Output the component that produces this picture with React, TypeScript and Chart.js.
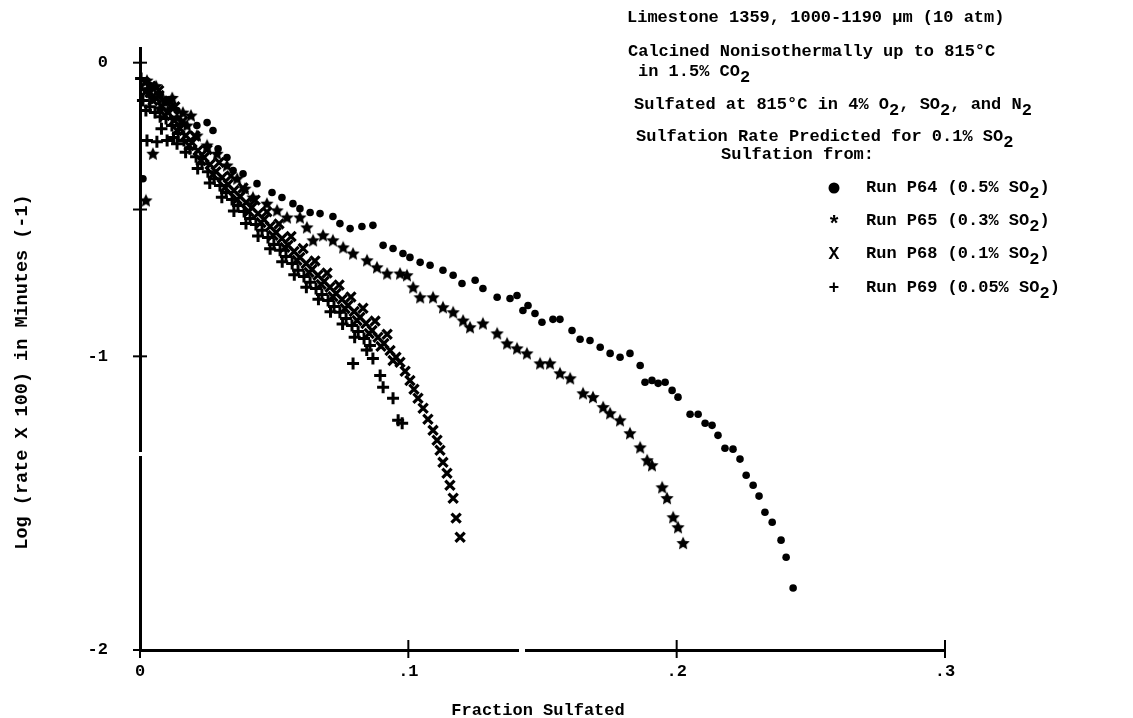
import React, { useEffect, useRef } from "react";
import { Chart, registerables } from "chart.js";

Chart.register(...registerables);

const FONT = '"Liberation Mono", "DejaVu Sans Mono", monospace';
const INK = "#000";

// [fraction sulfated, log(rate x 100)] for each run
const runP64: [number, number][] = [
  [0.0011, -0.395], [0.0037, -0.078], [0.0075, -0.112], [0.0112, -0.129], [0.0138, -0.163],
  [0.0157, -0.204], [0.0212, -0.214], [0.025, -0.204], [0.0272, -0.231], [0.0291, -0.293],
  [0.0324, -0.323], [0.0347, -0.367], [0.0384, -0.378], [0.0436, -0.412], [0.0492, -0.442],
  [0.0529, -0.459], [0.057, -0.48], [0.0596, -0.497], [0.0634, -0.51], [0.0671, -0.514],
  [0.0719, -0.524], [0.0745, -0.548], [0.0783, -0.565], [0.0827, -0.558], [0.0868, -0.554],
  [0.0906, -0.622], [0.0943, -0.633], [0.098, -0.65], [0.1006, -0.663], [0.1044, -0.68],
  [0.1081, -0.69], [0.1129, -0.707], [0.1167, -0.724], [0.12, -0.752], [0.1249, -0.741],
  [0.1278, -0.769], [0.1331, -0.799], [0.1379, -0.803], [0.1405, -0.793], [0.1427, -0.844],
  [0.1446, -0.827], [0.1472, -0.854], [0.1498, -0.884], [0.1539, -0.874], [0.1565, -0.874],
  [0.161, -0.912], [0.164, -0.942], [0.1677, -0.946], [0.1715, -0.969], [0.1752, -0.99],
  [0.1789, -1.003], [0.1826, -0.99], [0.1864, -1.031], [0.1882, -1.088], [0.1908, -1.082],
  [0.1931, -1.092], [0.1957, -1.088], [0.1983, -1.116], [0.2005, -1.139], [0.205, -1.197],
  [0.208, -1.197], [0.2106, -1.228], [0.2132, -1.235], [0.2154, -1.269], [0.218, -1.313],
  [0.221, -1.316], [0.2236, -1.35], [0.2259, -1.405], [0.2285, -1.439], [0.2307, -1.476],
  [0.2329, -1.531], [0.2356, -1.565], [0.2389, -1.626], [0.2408, -1.684], [0.2434, -1.789],
];

const runP65: [number, number][] = [
  [0.0022, -0.469], [0.0026, -0.061], [0.003, -0.09], [0.0045, -0.119], [0.0048, -0.31],
  [0.006, -0.08], [0.0075, -0.156], [0.009, -0.13], [0.0104, -0.163], [0.012, -0.12],
  [0.0138, -0.187], [0.016, -0.17], [0.0175, -0.214], [0.019, -0.18], [0.0212, -0.248],
  [0.025, -0.282], [0.0287, -0.31], [0.0324, -0.35], [0.0362, -0.395], [0.0391, -0.429],
  [0.0421, -0.459], [0.0473, -0.48], [0.0511, -0.503], [0.0548, -0.527], [0.0596, -0.527],
  [0.0622, -0.561], [0.0645, -0.605], [0.0682, -0.588], [0.0719, -0.605], [0.0757, -0.629],
  [0.0794, -0.65], [0.0846, -0.673], [0.0883, -0.697], [0.0921, -0.718], [0.0969, -0.718],
  [0.0995, -0.724], [0.1018, -0.765], [0.1044, -0.799], [0.1092, -0.799], [0.1129, -0.833],
  [0.1167, -0.85], [0.1204, -0.878], [0.123, -0.901], [0.1278, -0.888], [0.1331, -0.922],
  [0.1368, -0.956], [0.1405, -0.973], [0.1442, -0.99], [0.1491, -1.024], [0.1528, -1.024],
  [0.1565, -1.058], [0.1603, -1.075], [0.1651, -1.126], [0.1688, -1.139], [0.1726, -1.173],
  [0.1752, -1.194], [0.1789, -1.218], [0.1826, -1.262], [0.1864, -1.31], [0.189, -1.354],
  [0.1908, -1.371], [0.1946, -1.446], [0.1964, -1.483], [0.1987, -1.548], [0.2005, -1.582],
  [0.2024, -1.636],
];

const runP68: [number, number][] = [
  [0.0019, -0.068], [0.002, -0.1], [0.0037, -0.102], [0.004, -0.08], [0.0048, -0.129],
  [0.006, -0.122], [0.007, -0.095], [0.0071, -0.112], [0.0082, -0.15], [0.0093, -0.18],
  [0.0104, -0.17], [0.011, -0.13], [0.0116, -0.15], [0.0127, -0.197], [0.013, -0.15],
  [0.0138, -0.231], [0.0149, -0.224], [0.016, -0.199], [0.0171, -0.248], [0.0183, -0.282],
  [0.0194, -0.272], [0.0205, -0.25], [0.0216, -0.299], [0.0227, -0.333], [0.0239, -0.323],
  [0.025, -0.296], [0.0261, -0.347], [0.0272, -0.381], [0.0283, -0.371], [0.0295, -0.34],
  [0.0306, -0.391], [0.0317, -0.425], [0.0328, -0.415], [0.0339, -0.386], [0.035, -0.435],
  [0.0362, -0.466], [0.0373, -0.456], [0.0384, -0.427], [0.0395, -0.476], [0.0406, -0.507],
  [0.0417, -0.493], [0.0429, -0.468], [0.044, -0.514], [0.0451, -0.544], [0.0462, -0.534],
  [0.0473, -0.508], [0.0485, -0.558], [0.0496, -0.588], [0.0507, -0.578], [0.0518, -0.549],
  [0.0529, -0.599], [0.054, -0.629], [0.0552, -0.622], [0.0563, -0.592], [0.0574, -0.643],
  [0.0585, -0.673], [0.0596, -0.663], [0.0608, -0.633], [0.0619, -0.684], [0.063, -0.714],
  [0.0641, -0.704], [0.0652, -0.675], [0.0663, -0.724], [0.0675, -0.755], [0.0686, -0.745],
  [0.0697, -0.716], [0.0708, -0.765], [0.0719, -0.796], [0.0731, -0.786], [0.0742, -0.757],
  [0.0753, -0.806], [0.0764, -0.837], [0.0775, -0.827], [0.0786, -0.798], [0.0798, -0.847],
  [0.0809, -0.878], [0.082, -0.867], [0.0831, -0.836], [0.0842, -0.888], [0.0854, -0.922],
  [0.0865, -0.912], [0.0876, -0.88], [0.0887, -0.935], [0.0898, -0.966], [0.0909, -0.956],
  [0.0921, -0.925], [0.0932, -0.98], [0.0943, -1.014], [0.0954, -1.003], [0.0969, -1.02],
  [0.0988, -1.051], [0.1006, -1.082], [0.1021, -1.112], [0.1036, -1.143], [0.1055, -1.177],
  [0.1073, -1.214], [0.1092, -1.252], [0.1107, -1.286], [0.1118, -1.32], [0.1129, -1.361],
  [0.1144, -1.398], [0.1155, -1.439], [0.1167, -1.483], [0.1178, -1.551], [0.1193, -1.616],
];

const runP69: [number, number][] = [
  [0.0004, -0.054], [0.0011, -0.129], [0.0022, -0.163], [0.0026, -0.265], [0.0037, -0.15],
  [0.0056, -0.17], [0.0063, -0.269], [0.0075, -0.184], [0.008, -0.225], [0.0097, -0.19],
  [0.0101, -0.265], [0.0119, -0.214], [0.0125, -0.255], [0.0138, -0.276], [0.0142, -0.241],
  [0.0164, -0.265], [0.017, -0.305], [0.0186, -0.293], [0.0209, -0.32], [0.0215, -0.36],
  [0.0231, -0.344], [0.0253, -0.371], [0.026, -0.41], [0.0276, -0.395], [0.0298, -0.418],
  [0.0305, -0.458], [0.0321, -0.442], [0.0343, -0.466], [0.035, -0.505], [0.0365, -0.486],
  [0.0388, -0.507], [0.0395, -0.548], [0.041, -0.531], [0.0432, -0.551], [0.044, -0.59],
  [0.0455, -0.571], [0.0477, -0.595], [0.0485, -0.634], [0.0499, -0.619], [0.0522, -0.639],
  [0.053, -0.678], [0.0544, -0.66], [0.0567, -0.684], [0.0575, -0.722], [0.0589, -0.707],
  [0.0611, -0.728], [0.062, -0.765], [0.0634, -0.748], [0.0656, -0.769], [0.0665, -0.806],
  [0.0678, -0.789], [0.0701, -0.81], [0.071, -0.848], [0.0723, -0.83], [0.0745, -0.85],
  [0.0755, -0.89], [0.0768, -0.871], [0.079, -0.895], [0.08, -0.935], [0.0813, -0.915],
  [0.0835, -0.939], [0.0845, -0.978], [0.0857, -0.963], [0.0794, -1.024], [0.0868, -1.007],
  [0.0895, -1.065], [0.0906, -1.105], [0.0943, -1.143], [0.0962, -1.218], [0.0977, -1.228],
];

const runNames = ["Run P64", "Run P65", "Run P68", "Run P69"];
const runSO2 = ["0.5%", "0.3%", "0.1%", "0.05%"];
const legendGlyphs = ["●", "*", "X", "+"];

const xTickValues = [0, 0.1, 0.2, 0.3];
const xTickLabels = ["0", ".1", ".2", ".3"];
const yTickValues = [0, -0.5, -1, -2];
const yTickLabels = ["0", "", "-1", "-2"];

const xTitle = "Fraction Sulfated";
const yTitle = "Log (rate X 100) in Minutes (-1)";

// Text runs: [text, isSubscript]
type Part = [string, boolean];
const noteLines: Part[][] = [
  [["Limestone 1359, 1000-1190 μm (10 atm)", false]],
  [["Calcined Nonisothermally up to 815°C", false]],
  [["in 1.5% CO", false], ["2", true]],
  [["Sulfated at 815°C in 4% O", false], ["2", true], [", SO", false], ["2", true], [", and N", false], ["2", true]],
  [["Sulfation Rate Predicted for 0.1% SO", false], ["2", true]],
  [["Sulfation from:", false]],
];

// layout of the annotation block and legend
const notePos = [
  { x: 627, y: 18 },
  { x: 628, y: 52 },
  { x: 638, y: 72 },
  { x: 634, y: 105 },
  { x: 636, y: 137 },
  { x: 721, y: 155 },
];
const legendRows = [188, 221, 254, 288];

function drawParts(ctx: CanvasRenderingContext2D, parts: Part[], x: number, y: number) {
  let cx = x;
  for (const [t, sub] of parts) {
    ctx.fillText(t, cx, sub ? y + 6 : y);
    cx += ctx.measureText(t).width;
  }
}

function makeStar(size: number): HTMLCanvasElement {
  const c = document.createElement("canvas");
  c.width = size;
  c.height = size;
  const g = c.getContext("2d")!;
  const cx = size / 2;
  const cy = size / 2 + 0.5;
  const R = size / 2;
  const r = R * 0.48;
  g.beginPath();
  for (let i = 0; i < 10; i++) {
    const a = -Math.PI / 2 + (i * Math.PI) / 5;
    const rr = i % 2 ? r : R;
    g.lineTo(cx + rr * Math.cos(a), cy + rr * Math.sin(a));
  }
  g.closePath();
  g.fillStyle = INK;
  g.fill();
  return c;
}

const decorPlugin = {
  id: "decor",
  afterDraw(chart: any) {
    const ctx: CanvasRenderingContext2D = chart.ctx;
    const xs = chart.scales.x;
    const ys = chart.scales.y;
    const area = chart.chartArea;
    ctx.save();
    ctx.strokeStyle = INK;
    ctx.fillStyle = INK;

    // small breaks in the axis lines
    ctx.fillStyle = "#fff";
    ctx.fillRect(area.left - 3, 452, 6, 4);
    ctx.fillRect(519, area.bottom - 3, 6, 6);
    ctx.fillStyle = INK;

    // crossing tick marks
    ctx.lineWidth = 2;
    for (const v of yTickValues) {
      const py = ys.getPixelForValue(v);
      ctx.beginPath();
      ctx.moveTo(area.left - 7, py);
      ctx.lineTo(area.left + 7, py);
      ctx.stroke();
    }
    for (const v of xTickValues) {
      const px = xs.getPixelForValue(v);
      ctx.beginPath();
      ctx.moveTo(px, area.bottom - 10);
      ctx.lineTo(px, area.bottom + 8);
      ctx.stroke();
    }

    ctx.font = `bold 17px ${FONT}`;
    ctx.textBaseline = "middle";
    ctx.textAlign = "left";
    noteLines.forEach((parts, i) => drawParts(ctx, parts, notePos[i].x, notePos[i].y));

    // legend
    runNames.forEach((name, i) => {
      const y = legendRows[i];
      if (i === 0) {
        ctx.beginPath();
        ctx.arc(834, y, 5.5, 0, Math.PI * 2);
        ctx.fill();
      } else {
        ctx.save();
        ctx.textAlign = "center";
        ctx.font = `bold ${i === 1 ? 22 : 18}px ${FONT}`;
        ctx.fillText(legendGlyphs[i], 834, y + (i === 1 ? 4 : 0));
        ctx.restore();
      }
      drawParts(ctx, [[`${name} (${runSO2[i]} SO`, false], ["2", true], [")", false]], 866, y);
    });

    // axis titles
    ctx.textAlign = "center";
    ctx.fillText(xTitle, 538, 711);
    ctx.save();
    ctx.translate(22, 372);
    ctx.rotate(-Math.PI / 2);
    ctx.font = `bold 18.5px ${FONT}`;
    ctx.fillText(yTitle, 0, 0);
    ctx.restore();

    ctx.restore();
  },
};

export default function App() {
  const ref = useRef<HTMLCanvasElement>(null);

  useEffect(() => {
    if (!ref.current) return;
    const star = makeStar(14);
    const toPts = (d: [number, number][]) => d.map(([x, y]) => ({ x, y }));
    const chart = new Chart(ref.current, {
      type: "scatter",
      data: {
        datasets: [
          {
            label: runNames[0],
            data: toPts(runP64),
            pointStyle: "circle",
            pointRadius: 3.8,
            backgroundColor: INK,
            borderColor: INK,
            borderWidth: 0,
            clip: false,
          },
          {
            label: runNames[1],
            data: toPts(runP65),
            pointStyle: star as any,
            pointRadius: 7,
            backgroundColor: INK,
            borderColor: INK,
            clip: false,
          },
          {
            label: runNames[2],
            data: toPts(runP68),
            pointStyle: "crossRot",
            pointRadius: 6.5,
            borderWidth: 3.2,
            borderColor: INK,
            backgroundColor: INK,
            clip: false,
          },
          {
            label: runNames[3],
            data: toPts(runP69),
            pointStyle: "cross",
            pointRadius: 6,
            borderWidth: 3,
            borderColor: INK,
            backgroundColor: INK,
            clip: false,
          },
        ],
      },
      options: {
        animation: false,
        responsive: false,
        events: [],
        layout: { padding: { top: 48, right: 188, bottom: 0, left: 0 } },
        plugins: {
          legend: { display: false },
          tooltip: { enabled: false },
        },
        scales: {
          x: {
            type: "linear",
            min: 0,
            max: 0.3,
            afterFit: (s: any) => {
              s.height = 68;
            },
            afterBuildTicks: (s: any) => {
              s.ticks = xTickValues.map((value) => ({ value }));
            },
            grid: { display: false, drawTicks: false },
            border: { display: true, color: INK, width: 3 },
            ticks: {
              padding: 12,
              color: INK,
              font: { family: FONT, size: 17, weight: "bold" },
              callback: (v: any) => xTickLabels[xTickValues.findIndex((t) => Math.abs(t - v) < 1e-9)] ?? "",
            },
          },
          y: {
            type: "linear",
            min: -2,
            max: 0.05,
            afterFit: (s: any) => {
              s.width = 140;
            },
            afterBuildTicks: (s: any) => {
              s.ticks = yTickValues.map((value) => ({ value }));
            },
            grid: { display: false, drawTicks: false },
            border: { display: true, color: INK, width: 3 },
            ticks: {
              padding: 32,
              color: INK,
              font: { family: FONT, size: 17, weight: "bold" },
              callback: (v: any) => yTickLabels[yTickValues.findIndex((t) => Math.abs(t - v) < 1e-9)] ?? "",
            },
          },
        },
      },
      plugins: [decorPlugin],
    });
    return () => chart.destroy();
  }, []);

  return (
    <div style={{ position: "absolute", left: 0, top: 0, width: 1133, height: 718, background: "#fff" }}>
      <canvas ref={ref} width={1133} height={718} />
    </div>
  );
}
